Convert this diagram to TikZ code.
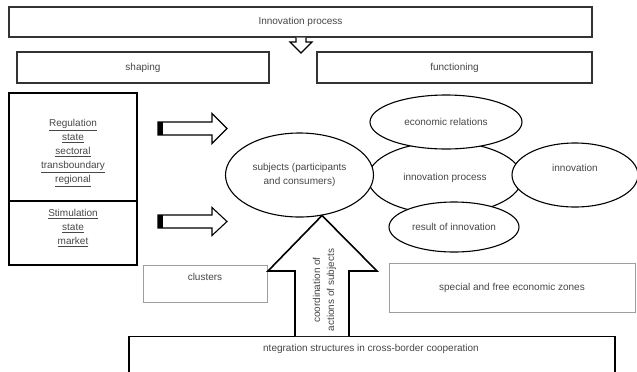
\documentclass[tikz,border=0pt]{standalone}
\usepackage{fontspec}
\setmainfont{Liberation Sans}
\usetikzlibrary{shapes.geometric}
\begin{document}
\begin{tikzpicture}[x = 1bp, y = -1bp,
  txt/.style = {text = mytext, font = \fontsize{10bp}{14bp}\selectfont, align = center, inner sep = 0pt},
  box/.style = {txt, draw = mydark, line width = 1.3bp, fill = white, minimum height = 31bp},
  thinbox/.style = {box, draw = mylight, line width = 0.9bp},
  oval/.style = {txt, ellipse, draw = black, line width = 1.1bp, fill = white},
  hollow/.style = {draw = black, line width = 1.1bp, fill = white, line join = miter}]
\definecolor{mytext}{HTML}{474747}
\definecolor{mydark}{HTML}{333333}
\definecolor{mylight}{HTML}{9E9E9E}
\useasboundingbox (0,0) rectangle (637,371);
\pgfmathsetmacro\shaftx{295};
\pgfmathsetmacro\shaftw{54};
\node[box, minimum width = 583bp, minimum height = 30bp] (process) at (300.5,22) {Innovation process};
\node[box, minimum width = 252bp] (shaping) at (143,67.5) {shaping};
\node[box, minimum width = 275bp] (functioning) at (454.5,67.5) {functioning};
\draw[hollow] (296,37.6) -- (296,42) -- (290,42) -- (301,53) -- (312,42) -- (306,42) -- (306,37.6);
\node[box, draw = black, fill = none, minimum width = 128bp, minimum height = 172bp] (tools) at (73,179) {};
\draw[black, line width = 1.3bp] (tools.west |- 0,201) -- (tools.east |- 0,201);
\node[txt] (regulation) at (73,153) {\underline{Regulation}\\\underline{state}\\\underline{sectoral}\\\underline{transboundary}\\\underline{regional}};
\node[txt] (stimulation) at (73,228) {\underline{Stimulation}\\\underline{state}\\\underline{market}};
\foreach \y/\h in {128.5/15, 221.5/14} {
  \draw[hollow] (158,\y-6.5) -- (212,\y-6.5) -- (212,\y-\h) -- (227,\y) -- (212,\y+\h) -- (212,\y+6.5) -- (158,\y+6.5) -- cycle;
  \fill[black] (158,\y-6.5) rectangle (163,\y+6.5);
}
\node[oval, minimum width = 154bp, minimum height = 72bp] (innoproc) at (445,178) {innovation process};
\node[oval, minimum width = 152bp, minimum height = 54bp] (relations) at (446,122) {economic relations};
\node[oval, minimum width = 130bp, minimum height = 50bp] (result) at (454,227) {result of innovation};
\node[oval, minimum width = 126bp, minimum height = 64bp, label = {[txt, yshift = 7bp]center:innovation}] (innovation) at (575,175) {};
\node[oval, minimum width = 148bp, minimum height = 84bp] (subjects) at (299.5,175) {subjects (participants\\and consumers)};
\node[thinbox, minimum width = 124bp, minimum height = 37bp] (clusters) at (205,283.5) {};
\node[txt] (clusterstext) at (205,277) {clusters};
\node[thinbox, minimum width = 246bp, minimum height = 49bp] (zones) at (512,287.5) {special and free economic zones};
\node[box, draw = black, minimum width = 486bp, minimum height = 50bp, anchor = north] (cooperation) at (372,336) {};
\node[txt] (cooptext) at (371,349) {ntegration structures in cross-border cooperation};
\draw[hollow, line width = 1.6bp] (\shaftx,336) -- (\shaftx,271) -- (268,271) -- (322,215.5) -- (377,271) -- (\shaftx+\shaftw,271) -- (\shaftx+\shaftw,336);
\node[txt, rotate = 90] (coordination) at (324.5,290) {coordination of\\actions of subjects};
\end{tikzpicture}
\end{document}
